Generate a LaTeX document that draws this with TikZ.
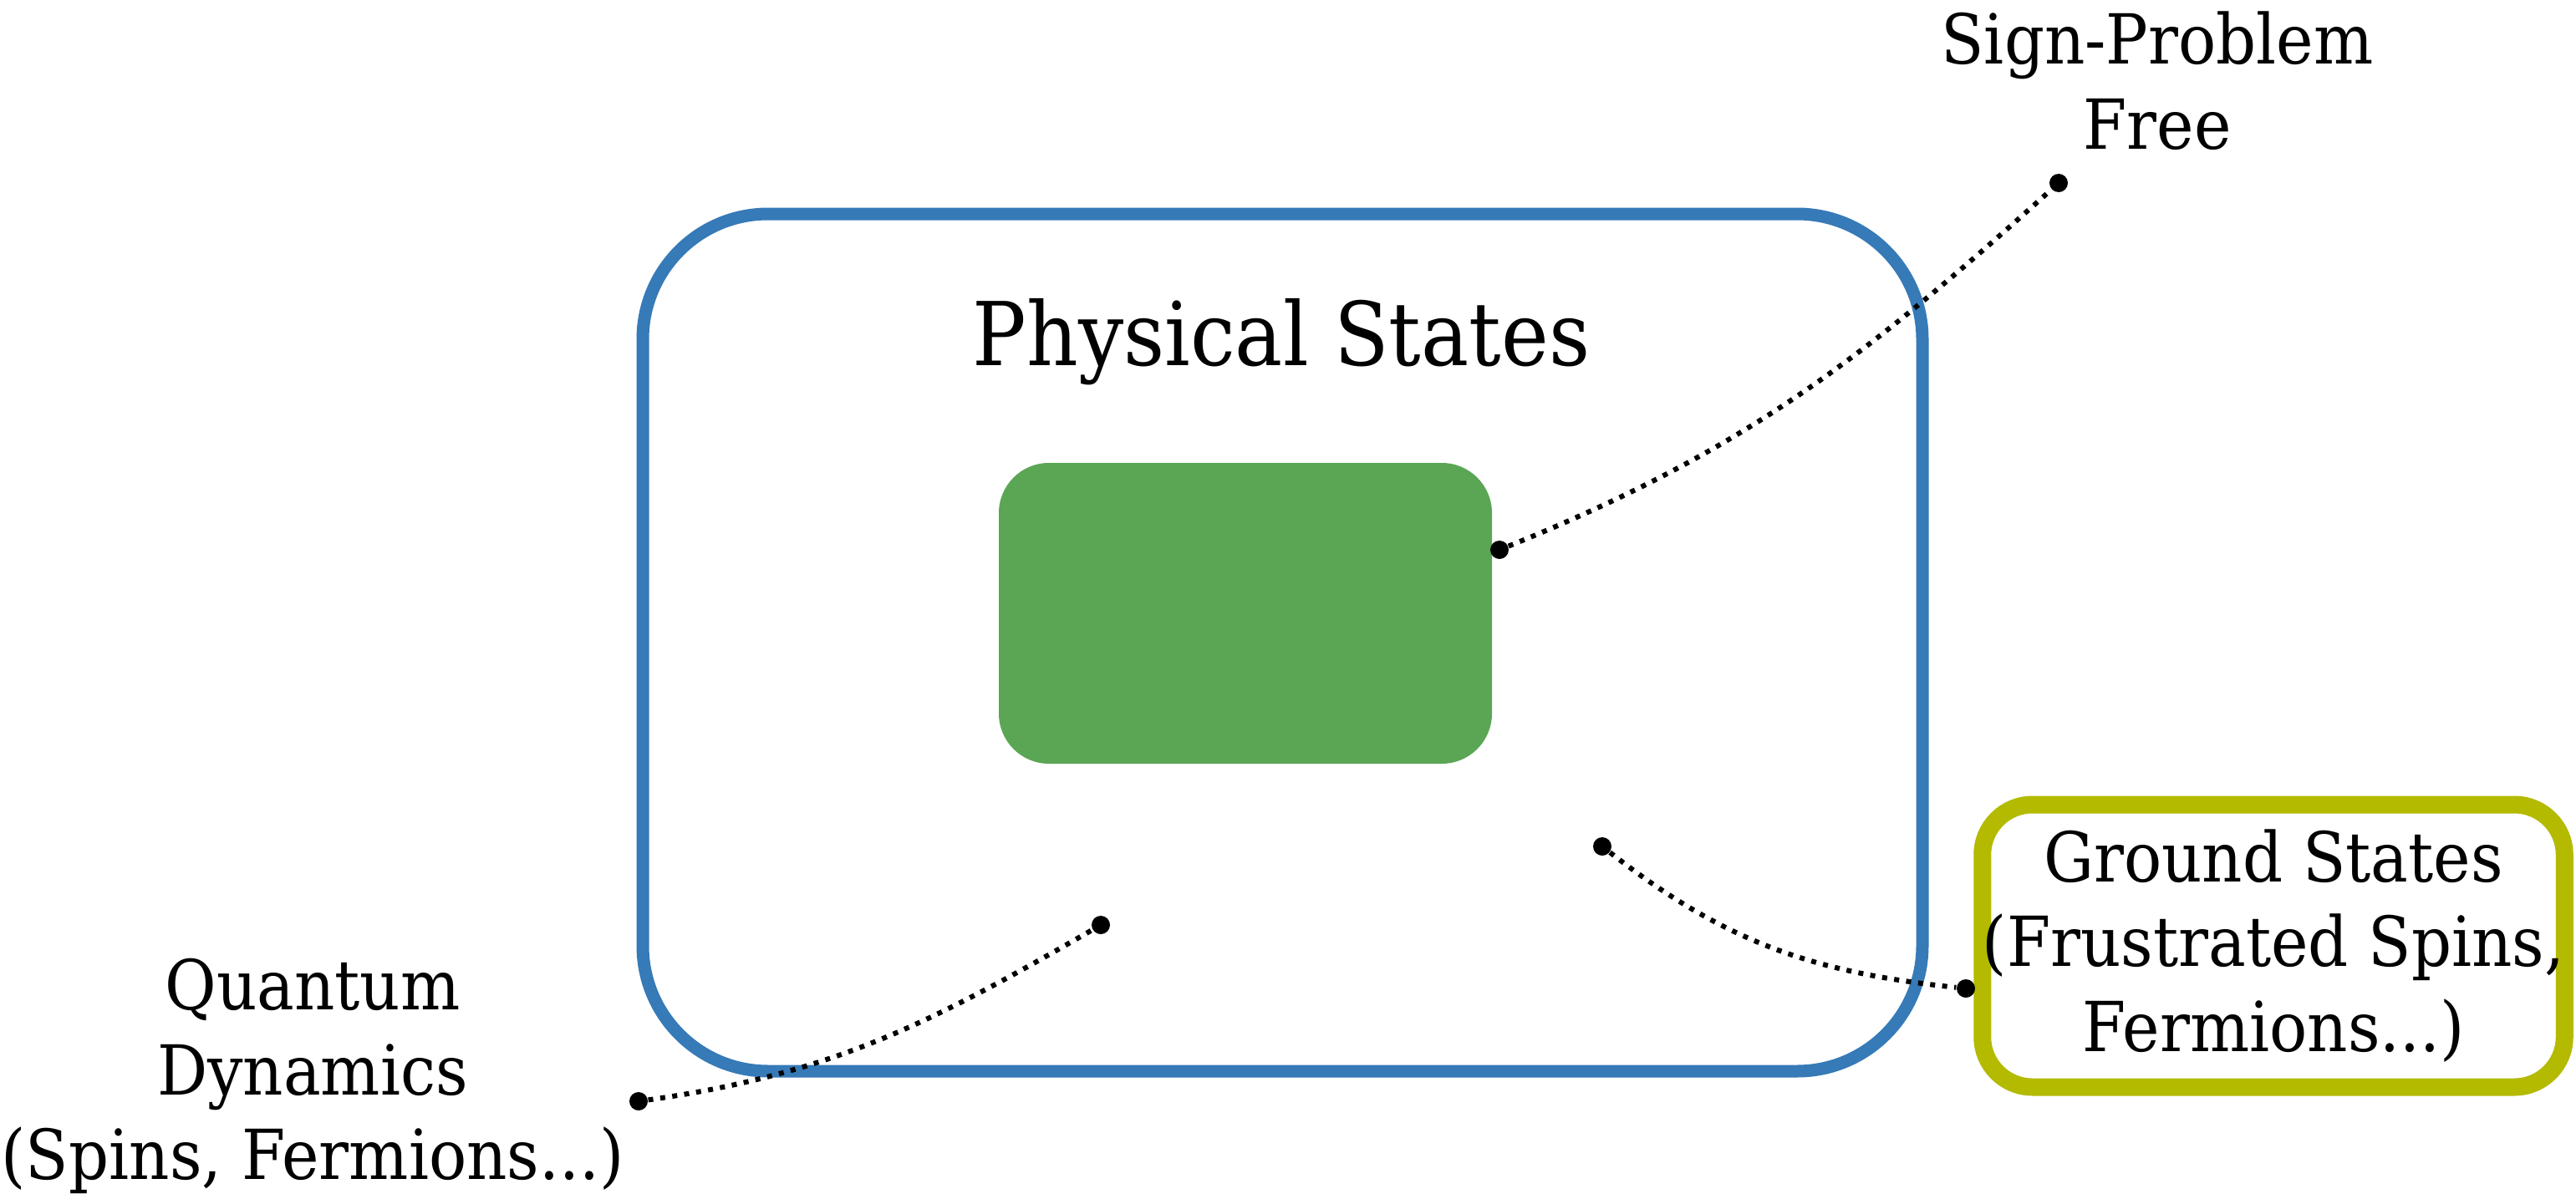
\documentclass[tikz,border=0pt]{standalone}
\usepackage{fontspec}
\setmainfont{DejaVu Serif}[FakeStretch=0.91]
\usetikzlibrary{shadows}

\definecolor{stateblue}{HTML}{367AB7}
\definecolor{freegreen}{HTML}{5BA655}
\definecolor{groundolive}{HTML}{B3BA00}

\begin{document}
\begin{tikzpicture}
\tikzstyle{bigtext}=[font=\fontsize{30}{36}\selectfont]
\tikzstyle{labeltext}=[align=center,font=\fontsize{23.5}{29}\selectfont]
\tikzstyle{tipdot}=[circle,fill=black,inner sep=0pt,minimum size=0.22cm]
\tikzstyle{dotline}=[line width=0.06cm,dash pattern=on 0.06cm off 0.085cm]

\useasboundingbox (0,0) rectangle (30.82,-14.29);

%% Draw the set of physical states
\node [draw=stateblue,line width=0.15cm,rounded corners=1.5cm,
       minimum width=15.31cm,minimum height=10.26cm] (phys) at (15.345,-7.69) {};
\node [bigtext,anchor=base] (physlabel) at (15.33,-4.37) {Physical States};

%% Sign-problem free region
\node [fill=freegreen,rounded corners=0.6cm,
       minimum width=5.9cm,minimum height=3.6cm] (free) at (14.9,-7.34) {};

%% Ground states box
\node [labeltext,draw=groundolive,line width=0.21cm,rounded corners=0.6cm,fill=white,
       inner sep=0pt,minimum width=6.72cm,minimum height=3.38cm,
       drop shadow={opacity=0.35,shadow xshift=0.02cm,shadow yshift=-0.1cm}]
       (ground) at (27.2,-11.32)
       {Ground States\\(Frustrated Spins,\\Fermions...)};

% outside labels
\node [labeltext] (signfree) at (25.81,-0.97) {Sign-Problem\\Free};
\node [labeltext] (dynamics) at (3.74,-12.88) {Quantum\\Dynamics\\(Spins, Fermions...)};

%% Dots and dotted links
\node [tipdot] (sp1) at (17.94,-6.58) {};
\node [tipdot] (sp2) at (24.63,-2.19) {};
\node [tipdot] (gs1) at (19.17,-10.13) {};
\node [tipdot] (gs2) at (23.52,-11.83) {};
\node [tipdot] (qd1) at (13.17,-11.07) {};
\node [tipdot] (qd2) at (7.64,-13.18) {};

\draw[dotline] (sp1) to[out=22,in=222] (sp2);
\draw[dotline] (gs1) to[out=-38,in=174] (gs2);
\draw[dotline] (qd2) to[out=8,in=210] (qd1);

\end{tikzpicture}
\end{document}
